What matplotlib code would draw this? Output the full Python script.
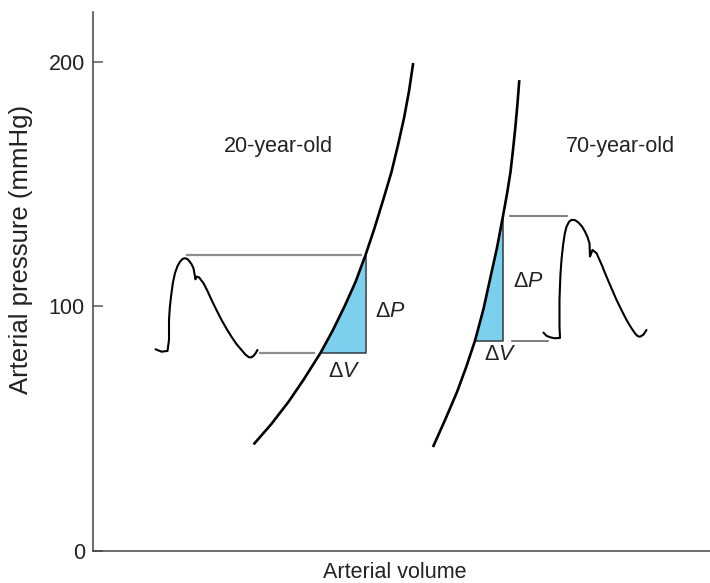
import matplotlib
matplotlib.use('Agg')
import matplotlib.pyplot as plt

plt.rcParams['font.family'] = ['Liberation Sans', 'DejaVu Sans']
plt.rcParams['mathtext.fontset'] = 'custom'
plt.rcParams['mathtext.rm'] = 'Liberation Sans'
plt.rcParams['mathtext.it'] = 'Liberation Sans:italic'

# ---- data (volume in arbitrary units, pressure in mmHg) ----
young_vol = [162, 179, 196, 211, 228, 240, 252, 263, 273, 282, 291, 299, 305.5, 311.5, 316.5, 320.5]
young_p = [44, 52, 61, 70, 81, 90, 100, 110, 121, 132, 144, 155, 166, 177, 188, 199]

old_vol = [341, 353, 364.5, 373.5, 382.5, 391, 398, 404.5, 410.5, 414.5, 418, 420.5, 422.8, 425, 426.7]
old_p = [43, 54, 65, 75, 86, 99, 112, 124, 137, 146, 155, 164, 173, 183, 192]

young_sys, young_dia = 121, 81
old_sys, old_dia = 137, 86

young_wave_x = [63, 69, 75, 76.5, 76.5, 77.3, 78.5, 80.3, 82.5, 85, 87.5, 90, 92, 94.5, 96.5,
                99, 101, 103, 104, 106.5, 111, 115, 119, 124, 129, 134, 139, 144, 149,
                153, 156.5, 159, 161, 163, 165]
young_wave_p = [82.5, 81.5, 81.8, 86.3, 94.5, 99.5, 104, 109.5, 113.7, 116.5, 118.3, 119.4,
                119.7, 119.5, 118.7, 117.3, 115.6, 111.1, 112.2, 111.9, 109.5, 106.3, 102.7,
                98.5, 94.5, 90.9, 87.6, 84.6, 82.2, 80.3, 79.2, 79.2, 79.8, 80.8, 82.2]

old_wave_x = [451, 454, 457.5, 462, 467.5, 467, 467, 467.5, 468, 469.2, 470.8, 472.3, 474,
              476.5, 479, 482.5, 486, 489.5, 492.5, 495, 497, 497.5, 500, 504, 509, 514,
              519, 524, 529, 534, 538.5, 542.5, 545, 547.5, 551, 554]
old_wave_p = [89.3, 88.0, 87.4, 87.0, 87.1, 91.7, 102.7, 108.5, 113.6, 120, 125.8, 129.8,
              132.6, 134.6, 135.4, 135.3, 134.3, 132.7, 130.6, 128.4, 125.8, 120.4, 123.1,
              121.8, 117.2, 112.2, 107.4, 102.7, 98.5, 94.5, 91.4, 89.0, 87.9, 87.6, 88.5, 90.4]

yticks = [0, 100, 200]
group_labels = ['20-year-old', '70-year-old']

# ---- figure ----
fig = plt.figure(figsize=(7.10, 5.83), dpi=100)
ax = fig.add_axes([92.5 / 710, 32 / 583, 617.5 / 710, 539 / 583])
ax.set_xlim(0, 617.5)
ax.set_ylim(0, 220.4)

fs = 15.5
blue = '#7dcfee'
txt = '#222222'


def interp_x(vols, ps, p):
    for i in range(len(ps) - 1):
        if ps[i] <= p <= ps[i + 1]:
            t = (p - ps[i]) / (ps[i + 1] - ps[i])
            return vols[i] + t * (vols[i + 1] - vols[i])
    return vols[-1]


def triangle(vols, ps, p_lo, p_hi):
    x_lo = interp_x(vols, ps, p_lo)
    x_hi = interp_x(vols, ps, p_hi)
    px = [x_lo] + [v for v, p in zip(vols, ps) if p_lo < p < p_hi] + [x_hi, x_hi]
    py = [p_lo] + [p for p in ps if p_lo < p < p_hi] + [p_hi, p_lo]
    ax.fill(px, py, color=blue, lw=0, zorder=1)
    ax.plot([x_lo, x_hi, x_hi], [p_lo, p_lo, p_hi], color='#2a3a40', lw=1.1, zorder=2)
    return x_lo, x_hi


yx_lo, yx_hi = triangle(young_vol, young_p, young_dia, young_sys)
ox_lo, ox_hi = triangle(old_vol, old_p, old_dia, old_sys)

# connector lines
ax.plot([94.5, yx_hi - 5], [young_sys, young_sys], color='#8c8c8c', lw=1.6, zorder=1)
ax.plot([167.5, yx_lo - 7], [young_dia, young_dia], color='#8c8c8c', lw=1.6, zorder=1)
ax.plot([ox_hi + 7, 474.5], [old_sys, old_sys], color='#666666', lw=1.2, zorder=1)
ax.plot([ox_hi + 9, 455.5], [old_dia, old_dia], color='#666666', lw=1.2, zorder=1)

# compliance curves
ax.plot(young_vol, young_p, color='black', lw=1.9, zorder=3, solid_joinstyle='round')
ax.plot(old_vol, old_p, color='black', lw=1.9, zorder=3, solid_joinstyle='round')

# pressure waveforms
ax.plot(young_wave_x, young_wave_p, color='black', lw=1.5, zorder=3,
        solid_joinstyle='round', solid_capstyle='round')
ax.plot(old_wave_x, old_wave_p, color='black', lw=1.5, zorder=3,
        solid_joinstyle='round', solid_capstyle='round')

# labels
ax.text(185.5, 165.2, group_labels[0], fontsize=fs, ha='center', va='center', color=txt)
ax.text(527.5, 165.2, group_labels[1], fontsize=fs, ha='center', va='center', color=txt)
ax.text(298, 97.8, r'$\Delta P$', fontsize=fs, ha='center', va='center', color=txt)
ax.text(251.5, 73.2, r'$\Delta V$', fontsize=fs, ha='center', va='center', color=txt)
ax.text(435.5, 110, r'$\Delta P$', fontsize=fs, ha='center', va='center', color=txt)
ax.text(407.5, 80.2, r'$\Delta V$', fontsize=fs, ha='center', va='center', color=txt)

# axes styling
for s in ['top', 'right']:
    ax.spines[s].set_visible(False)
for s in ['left', 'bottom']:
    ax.spines[s].set_color('#444444')
    ax.spines[s].set_linewidth(1.1)
ax.set_xticks([])
ax.set_yticks(yticks)
ax.set_yticklabels([str(t) for t in yticks])
ax.tick_params(axis='y', direction='in', length=7.5, width=1.1, color='#555555',
               labelsize=fs, labelcolor=txt, pad=5.5)

ax.set_ylabel('Arterial pressure (mmHg)', fontsize=18.5, color=txt, va='center')
ax.yaxis.set_label_coords(-0.116, 0.56)
ax.set_xlabel('Arterial volume', fontsize=fs, color=txt, va='center')
ax.xaxis.set_label_coords(0.49, -0.039)

fig.savefig('out.png', dpi=100)
